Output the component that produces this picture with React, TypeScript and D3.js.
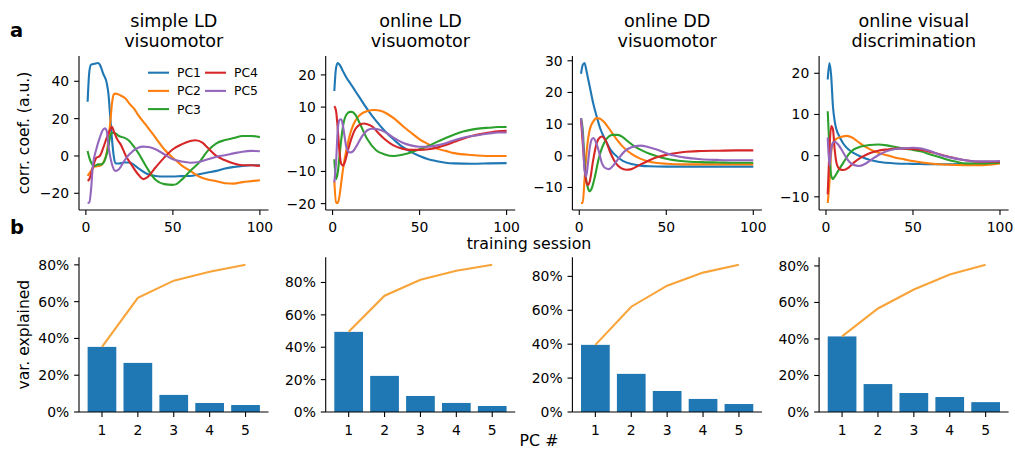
import React from "react";
import * as d3 from "d3";

const colors = ["#1f77b4", "#ff7f0e", "#2ca02c", "#d62728", "#9467bd"];
const pcNames = ["PC1", "PC2", "PC3", "PC4", "PC5"];
const titles = [
  ["simple LD", "visuomotor"],
  ["online LD", "visuomotor"],
  ["online DD", "visuomotor"],
  ["online visual", "discrimination"],
];

// [training session, corr. coef.]
const simpleLD_PC1 = [[1,29],[2,45.3],[3,48.9],[5,49.4],[7,49.8],[8,48.9],[10,44],[12,39],[13,33],[14,21],[15,9],[16,0],[17,-4],[19,-4],[22,-3.5],[25,-3.5],[30,-6.5],[35,-9.5],[40,-10.7],[45,-11],[50,-11],[55,-10.8],[60,-10.7],[65,-9.8],[70,-8.9],[75,-8],[80,-6.7],[85,-5.9],[90,-5.3],[95,-5],[100,-5]];
const simpleLD_PC2 = [[1,-10.7],[3,-8],[5,-5.7],[8,-5.3],[10,-3.5],[12,1.8],[13,9],[14,17.8],[15,28],[16,32.9],[17,33.4],[20,32.4],[23,30.6],[25,28],[28,25],[30,22],[35,16],[40,9.8],[45,3.6],[50,-1],[55,-5],[60,-8],[65,-11],[70,-12.6],[75,-13.5],[80,-14.6],[85,-14.8],[90,-14],[95,-13.5],[100,-13]];
const simpleLD_PC3 = [[1,2.7],[2,-1],[3,-3.5],[5,-5.3],[7,-4.5],[9,-4.5],[11,-2],[13,5.3],[14,10.7],[15,12.4],[17,12],[19,10.7],[22,9.8],[25,8],[28,4.4],[30,1.8],[35,-6.2],[40,-12.8],[45,-15.1],[50,-15.5],[52,-15.1],[55,-12.8],[60,-8],[65,-3.6],[70,2.7],[75,6.8],[80,8.5],[85,9.6],[90,10.7],[95,10.7],[100,10.1]];
const simpleLD_PC4 = [[1,-13.3],[2,-12.4],[4,-6.2],[6,-1],[8,0],[10,4.4],[12,9.8],[14,14.2],[15,15.6],[16,13.3],[18,8.9],[20,6.2],[23,0],[26,-4.4],[30,-9.8],[33,-12.4],[35,-11.6],[40,-6.2],[45,-0.9],[50,3.6],[55,6.2],[60,8],[63,8.4],[67,7.1],[70,4.4],[75,0],[80,-2.3],[85,-4.1],[90,-5],[95,-5],[100,-5.3]];
const simpleLD_PC5 = [[1,-25.2],[2,-24.9],[3,-17.8],[4,-5.3],[6,3.6],[8,9.8],[10,14.2],[11,14.8],[12,13.3],[13,5.3],[15,-4.4],[17,-8],[19,-7.1],[22,-2.7],[25,0.9],[30,4.4],[33,5],[36,4.8],[40,3.6],[45,0.9],[50,-1.8],[55,-3],[60,-3.6],[65,-3.2],[70,-1.8],[75,-0.4],[80,0.4],[85,1.4],[90,2.3],[95,2.7],[100,2.5]];

const onlineLD_PC1 = [[1,15],[2,22.2],[3,23.7],[4,23.2],[6,21.1],[8,19.1],[10,17.5],[15,13.4],[20,9.3],[25,5.7],[30,2.6],[35,0],[40,-2.3],[45,-3.9],[50,-5.2],[55,-6.2],[60,-6.8],[65,-7.3],[70,-7.5],[80,-7.6],[90,-7.5],[100,-7.4]];
const onlineLD_PC2 = [[1,-12.9],[2,-19.6],[3,-19.8],[4,-17.5],[5,-13.4],[6,-9.3],[8,-3.1],[10,1.5],[12,4.6],[15,7.2],[20,8.8],[24,9.1],[28,8.8],[32,7.7],[36,6.2],[40,4.3],[45,2.1],[50,0],[55,-1.5],[60,-2.9],[65,-3.6],[70,-4.3],[80,-4.9],[90,-5.2],[100,-5.2]];
const onlineLD_PC3 = [[1,-6.2],[2,-12.4],[3,-10.3],[4,-5.2],[5,0],[6,4.1],[8,7.7],[10,8.5],[11,8.5],[13,7.7],[15,5.7],[20,0],[25,-3.4],[30,-4.7],[35,-5.2],[40,-4.8],[45,-4.1],[50,-3.1],[55,-2.1],[60,-0.8],[65,0.4],[70,1.5],[75,2.4],[80,3],[85,3.4],[90,3.6],[95,3.8],[100,3.8]];
const onlineLD_PC4 = [[1,10.3],[2,8.8],[3,3.1],[4,-4.1],[5,-7.7],[6,-8.2],[7,-7.2],[9,-3.1],[11,0.5],[13,3.1],[15,4.3],[18,4.9],[20,4.7],[23,3.9],[26,2.1],[30,0],[35,-1.9],[40,-2.9],[45,-3.3],[50,-3.3],[55,-3.1],[60,-2.6],[65,-1.8],[70,-0.8],[75,0.2],[80,1],[85,1.6],[90,2.1],[95,2.5],[100,2.6]];
const onlineLD_PC5 = [[1,-13.4],[2,-7.2],[3,3.1],[4,6],[5,6.2],[6,4.1],[7,0.5],[8,-2.6],[10,-4.1],[12,-3.6],[14,-1.9],[17,1],[20,2.8],[23,3.3],[26,3.1],[30,2.3],[35,0.5],[40,-1],[45,-1.9],[50,-2.3],[55,-2.3],[60,-1.9],[65,-1.2],[70,-0.3],[75,0.5],[80,1],[85,1.4],[90,1.8],[95,2.1],[100,2.1]];

const onlineDD_PC1 = [[1,25.9],[2,28.7],[3,29.3],[4,27.2],[5,24.5],[6,21.9],[8,16.6],[10,12.4],[12,8.7],[15,5],[18,1.9],[20,0.6],[25,-1.6],[30,-2.6],[35,-3.1],[40,-3.3],[50,-3.4],[60,-3.4],[80,-3.4],[100,-3.4]];
const onlineDD_PC2 = [[1,-14.9],[2,-14.9],[3,-7.6],[4,-0.2],[5,5],[6,8.2],[8,10.8],[10,11.9],[12,11.7],[14,10.8],[17,8.7],[20,6.3],[25,2.9],[30,0.6],[35,-0.9],[40,-1.8],[50,-2.5],[60,-2.7],[80,-2.7],[100,-2.7]];
const onlineDD_PC3 = [[1,11.9],[2,8.2],[3,-1.3],[4,-7.6],[5,-10.2],[6,-11.2],[7,-10.5],[9,-6.5],[11,-1.3],[13,2.4],[16,5.6],[19,6.6],[22,6.6],[25,5.9],[28,4.5],[32,2.9],[36,1.7],[40,0.7],[45,-0.2],[50,-0.9],[60,-1.7],[70,-2],[80,-2.1],[90,-2.2],[100,-2.2]];
const onlineDD_PC4 = [[1,11.4],[2,4],[3,-3.4],[4,-8.1],[5,-9.2],[6,-8.1],[8,-1.3],[10,4],[12,5.9],[13,6.1],[15,5],[18,0.8],[21,-2.3],[24,-3.9],[27,-4.4],[30,-4.2],[35,-2.8],[40,-1.5],[45,-0.4],[50,0.3],[55,0.8],[60,1.2],[70,1.5],[80,1.6],[90,1.7],[100,1.7]];
const onlineDD_PC5 = [[1,11.9],[2,6.1],[3,-4.4],[4,-6.5],[5,-2.3],[6,2.4],[7,5],[8,5.6],[9,5],[11,1.9],[13,-2.3],[15,-3.9],[17,-4.2],[19,-3.4],[22,-1.3],[26,1.4],[30,2.7],[35,3.2],[40,2.7],[45,1.9],[50,0.8],[55,0],[60,-0.5],[70,-1.1],[80,-1.3],[90,-1.4],[100,-1.4]];

const visual_PC1 = [[1,18.5],[2,22.5],[3,19.3],[4,12],[5,8.4],[6,6.4],[8,4.4],[10,2.9],[13,1.5],[16,0.6],[20,-0.2],[25,-1],[30,-1.5],[40,-1.9],[50,-2],[60,-2.1],[70,-2.1],[80,-2],[90,-1.9],[100,-1.7]];
const visual_PC2 = [[1,-11.5],[2,-6.5],[3,0.7],[4,3.1],[6,4.1],[9,4.6],[12,4.8],[15,4.4],[18,3.5],[22,2.3],[26,1.4],[30,0.7],[35,0.1],[40,-0.5],[45,-0.9],[50,-1.3],[60,-1.9],[70,-2.2],[80,-2.3],[90,-2.3],[100,-1.9]];
const visual_PC3 = [[1,10.8],[2,1.5],[3,-4.9],[4,-5.7],[5,-5.1],[7,-3.7],[10,-1.7],[13,0.3],[16,1.5],[20,2.2],[25,2.6],[30,2.7],[35,2.5],[40,2.1],[45,1.7],[50,1.4],[55,1],[60,0.3],[65,-0.3],[70,-1],[75,-1.5],[80,-1.9],[90,-1.9],[100,-1.7]];
const visual_PC4 = [[1,-9.4],[2,1.5],[3,7.2],[4,6.4],[5,1.5],[6,-1.7],[8,-3.3],[10,-3.5],[13,-2.9],[16,-1.7],[20,-0.5],[25,0.6],[30,1.2],[35,1.5],[40,1.7],[45,1.7],[50,1.6],[55,1.4],[60,0.9],[70,-0.2],[80,-1.1],[90,-1.5],[100,-1.5]];
const visual_PC5 = [[1,4.4],[2,-2.5],[3,1.5],[4,3.1],[5,3.4],[7,2.7],[10,0.7],[13,-1.3],[16,-2.3],[19,-2.5],[22,-2.1],[26,-1],[30,0.1],[35,1.1],[40,1.6],[45,1.8],[50,1.9],[55,1.7],[60,1.1],[65,0.3],[70,-0.3],[80,-1.1],[90,-1.4],[100,-1.3]];

const traceYTicks = [
  [-20, 0, 20, 40],
  [-20, -10, 0, 10, 20],
  [-10, 0, 10, 20, 30],
  [-10, 0, 10, 20],
];
const sessionTicks = [0, 50, 100];

// variance explained per PC (%)
const varSimpleLD = [35.4, 26.7, 9.3, 4.9, 3.8];
const varOnlineLD = [49.5, 22.3, 9.9, 5.6, 3.7];
const varOnlineDD = [39.6, 22.5, 12.4, 7.7, 4.7];
const varVisual = [41.4, 15.3, 10.4, 8.2, 5.4];
const pcTicks = [1, 2, 3, 4, 5];
const pctTicks = [0, 20, 40, 60, 80];

const traces = [
  [simpleLD_PC1, simpleLD_PC2, simpleLD_PC3, simpleLD_PC4, simpleLD_PC5],
  [onlineLD_PC1, onlineLD_PC2, onlineLD_PC3, onlineLD_PC4, onlineLD_PC5],
  [onlineDD_PC1, onlineDD_PC2, onlineDD_PC3, onlineDD_PC4, onlineDD_PC5],
  [visual_PC1, visual_PC2, visual_PC3, visual_PC4, visual_PC5],
];
const variances = [varSimpleLD, varOnlineLD, varOnlineDD, varVisual];

const W = 1015;
const H = 449;
const lefts = [79, 325.7, 572.4, 819.1];
const pw = 189.5;
const topY = [56, 210];
const botY = [257.3, 412];
const font = "DejaVu Sans";
const tickLen = 4.9;
const tickFont = 13.9;
const ink = "#000";

const TracePanel = ({ i }: { i: number }) => {
  const left = lefts[i];
  const series = traces[i];
  const x = d3.scaleLinear().domain([-3.95, 104.95]).range([left, left + pw]);
  const vals = series.flat().map((d) => d[1]);
  const [lo, hi] = d3.extent(vals) as [number, number];
  const pad = (hi - lo) * 0.05;
  const y = d3.scaleLinear().domain([lo - pad, hi + pad]).range([topY[1], topY[0]]);
  const line = d3
    .line<number[]>()
    .x((d) => x(d[0]))
    .y((d) => y(d[1]))
    .curve(d3.curveMonotoneX);
  const cx = left + pw / 2;

  return (
    <g>
      <text x={cx} y={27} textAnchor="middle" fontSize={17.6}>{titles[i][0]}</text>
      <text x={cx} y={46.5} textAnchor="middle" fontSize={17.6}>{titles[i][1]}</text>
      {series.map((s, k) => (
        <path key={k} d={line(s) || ""} fill="none" stroke={colors[k]} strokeWidth={2.1} strokeLinejoin="round" />
      ))}
      <line x1={left} x2={left} y1={topY[0]} y2={topY[1]} stroke={ink} strokeWidth={1.1} />
      <line x1={left} x2={left + pw} y1={topY[1]} y2={topY[1]} stroke={ink} strokeWidth={1.1} />
      {traceYTicks[i].map((t) => (
        <g key={t}>
          <line x1={left - tickLen} x2={left} y1={y(t)} y2={y(t)} stroke={ink} strokeWidth={1.1} />
          <text x={left - tickLen - 4.9} y={y(t)} dy="0.36em" textAnchor="end" fontSize={tickFont}>
            {t < 0 ? "\u2212" + Math.abs(t) : t}
          </text>
        </g>
      ))}
      {sessionTicks.map((t) => (
        <g key={t}>
          <line x1={x(t)} x2={x(t)} y1={topY[1]} y2={topY[1] + tickLen} stroke={ink} strokeWidth={1.1} />
          <text x={x(t)} y={topY[1] + 22.3} textAnchor="middle" fontSize={tickFont}>{t}</text>
        </g>
      ))}
    </g>
  );
};

const VarPanel = ({ i }: { i: number }) => {
  const left = lefts[i];
  const v = variances[i];
  const cum = Array.from(d3.cumsum(v));
  const x = d3.scaleLinear().domain([0.36, 5.64]).range([left, left + pw]);
  const y = d3.scaleLinear().domain([0, (d3.max(cum) as number) * 1.05]).range([botY[1], botY[0]]);
  const line = d3
    .line<number>()
    .x((_, k) => x(pcTicks[k]))
    .y((d) => y(d));
  const bw = x(1.4) - x(0.6);

  return (
    <g>
      {v.map((d, k) => (
        <rect key={k} x={x(pcTicks[k]) - bw / 2} y={y(d)} width={bw} height={y(0) - y(d)} fill="#1f77b4" />
      ))}
      <path d={line(cum) || ""} fill="none" stroke="#f8a43a" strokeWidth={2.1} />
      <line x1={left} x2={left} y1={botY[0]} y2={botY[1]} stroke={ink} strokeWidth={1.1} />
      <line x1={left} x2={left + pw} y1={botY[1]} y2={botY[1]} stroke={ink} strokeWidth={1.1} />
      {pctTicks.map((t) => (
        <g key={t}>
          <line x1={left - tickLen} x2={left} y1={y(t)} y2={y(t)} stroke={ink} strokeWidth={1.1} />
          <text x={left - tickLen - 4.9} y={y(t)} dy="0.36em" textAnchor="end" fontSize={tickFont}>{t}%</text>
        </g>
      ))}
      {pcTicks.map((t) => (
        <g key={t}>
          <line x1={x(t)} x2={x(t)} y1={botY[1]} y2={botY[1] + tickLen} stroke={ink} strokeWidth={1.1} />
          <text x={x(t)} y={botY[1] + 22.7} textAnchor="middle" fontSize={tickFont}>{t}</text>
        </g>
      ))}
    </g>
  );
};

const Legend = () => {
  const cols = [148, 205];
  const rowY = [72.7, 90.9, 109.1];
  return (
    <g>
      {pcNames.map((n, k) => {
        const c = k < 3 ? 0 : 1;
        const r = k < 3 ? k : k - 3;
        const lx = cols[c];
        const ly = rowY[r];
        return (
          <g key={n}>
            <line x1={lx} x2={lx + 21} y1={ly} y2={ly} stroke={colors[k]} strokeWidth={2.1} />
            <text x={lx + 29} y={ly} dy="0.36em" fontSize={12.4}>{n}</text>
          </g>
        );
      })}
    </g>
  );
};

export default function App() {
  return (
    <svg
      width={W}
      height={H}
      style={{ position: "absolute", left: 0, top: 0, background: "#fff" }}
      fontFamily={font}
      fill="#000"
    >
      <rect width={W} height={H} fill="#fff" />
      {[0, 1, 2, 3].map((i) => (
        <TracePanel key={i} i={i} />
      ))}
      {[0, 1, 2, 3].map((i) => (
        <VarPanel key={i} i={i} />
      ))}
      <Legend />
      <text x={10} y={37} fontSize={19.5} fontWeight="bold">a</text>
      <text x={10} y={234} fontSize={19.5} fontWeight="bold">b</text>
      <text transform={`translate(29,133) rotate(-90)`} textAnchor="middle" fontSize={15.6}>corr. coef. (a.u.)</text>
      <text transform={`translate(29,334.6) rotate(-90)`} textAnchor="middle" fontSize={15.6}>var. explained</text>
      <text x={529} y={249} textAnchor="middle" fontSize={15.8}>training session</text>
      <text x={539} y={446} textAnchor="middle" fontSize={15.8}>PC #</text>
    </svg>
  );
}
